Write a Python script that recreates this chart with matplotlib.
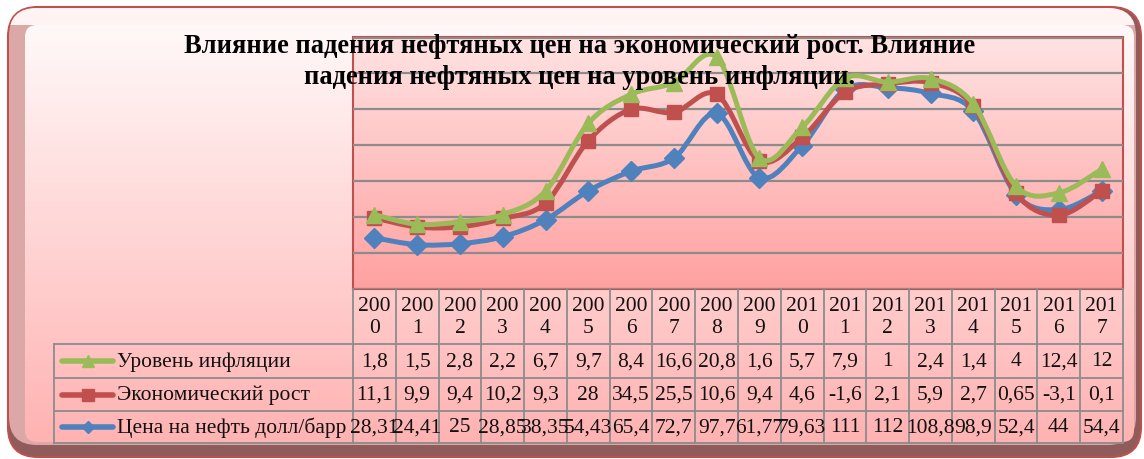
import numpy as np
import matplotlib
matplotlib.use("Agg")
import matplotlib.pyplot as plt
from matplotlib.path import Path
from matplotlib.patches import PathPatch, FancyBboxPatch, Rectangle

# ---------------- data ----------------
years = ["2000", "2001", "2002", "2003", "2004", "2005", "2006", "2007", "2008",
         "2009", "2010", "2011", "2012", "2013", "2014", "2015", "2016", "2017"]
inflation = [1.8, 1.5, 2.8, 2.2, 6.7, 9.7, 8.4, 16.6, 20.8, 1.6, 5.7, 7.9, 1, 2.4, 1.4, 4, 12.4, 12]
growth = [11.1, 9.9, 9.4, 10.2, 9.3, 28, 34.5, 25.5, 10.6, 9.4, 4.6, -1.6, 2.1, 5.9, 2.7, 0.65, -3.1, 0.1]
oil = [28.31, 24.41, 25, 28.85, 38.35, 54.43, 65.4, 72.7, 97.7, 61.77, 79.63, 111, 112, 108.8, 98.9, 52.4, 44, 54.4]

inflation_lbl = ["1,8", "1,5", "2,8", "2,2", "6,7", "9,7", "8,4", "16,6", "20,8", "1,6", "5,7", "7,9", "1", "2,4", "1,4", "4", "12,4", "12"]
growth_lbl = ["11,1", "9,9", "9,4", "10,2", "9,3", "28", "34,5", "25,5", "10,6", "9,4", "4,6", "-1,6", "2,1", "5,9", "2,7", "0,65", "-3,1", "0,1"]
oil_lbl = ["28,31", "24,41", "25", "28,85", "38,35", "54,43", "65,4", "72,7", "97,7", "61,77", "79,63", "111", "112", "108,8", "98,9", "52,4", "44", "54,4"]

series_names = ["Уровень инфляции", "Экономический рост", "Цена на нефть долл/барр"]
title = "Влияние падения нефтяных цен на экономический рост. Влияние\nпадения нефтяных цен на уровень инфляции."

C_GREEN = "#9BBB59"
C_RED = "#C0504D"
C_BLUE = "#4F81BD"

W, H = 1144, 459
fig = plt.figure(figsize=(W / 100, H / 100), dpi=100)

# ---------------- background frame ----------------
bg = fig.add_axes([0, 0, 1, 1], zorder=0)
bg.set_xlim(0, W)
bg.set_ylim(H, 0)
bg.axis("off")

r_out = 30
outer = FancyBboxPatch((8 + r_out, 7 + r_out), 1133 - 2 * r_out, 450 - 2 * r_out,
                       boxstyle="round,pad=%d" % r_out, fc="#8F5B5B", ec=C_RED, lw=1.5, zorder=1)
bg.add_patch(outer)
r_b = 28
bevel = FancyBboxPatch((9 + r_b, 8 + r_b), 1127 - 2 * r_b, 437 - 2 * r_b,
                       boxstyle="round,pad=%d" % r_b, fc="#DBA7A7", ec="none", zorder=2)
bg.add_patch(bevel)
topstrip = Rectangle((0, 0), W, 25, fc="#FFF3F3", ec="none", zorder=3)
bg.add_patch(topstrip)
topstrip.set_clip_path(bevel)
r_i = 12
inner = FancyBboxPatch((25 + r_i, 25 + r_i), 1109 - 2 * r_i, 417 - 2 * r_i,
                       boxstyle="round,pad=%d" % r_i, fc="none", ec="none")
bg.add_patch(inner)
grad = np.linspace(0, 1, 256).reshape(-1, 1)
c_top = np.array([1.0, 0.975, 0.975])
c_bot = np.array([1.0, 0.70, 0.70])
img = c_top[None, None, :] * (1 - grad[..., None]) + c_bot[None, None, :] * grad[..., None]
im = bg.imshow(img, extent=[25, 1134, 442, 25], aspect="auto", zorder=4)
im.set_clip_path(inner)

# ---------------- plot area ----------------
L, R, T, B = 353, 1123, 37.5, 288.5
ax = fig.add_axes([L / W, 1 - B / H, (R - L) / W, (B - T) / H], zorder=2)
ax.set_xlim(-0.5, len(years) - 0.5)
ax.set_ylim(0, 140)
ax.set_facecolor("none")
pa_top = np.array([1.0, 0.89, 0.89])
pa_bot = np.array([1.0, 0.63, 0.63])
img2 = pa_top[None, None, :] * (1 - grad[..., None]) + pa_bot[None, None, :] * grad[..., None]
ax.imshow(img2, extent=[-0.5, len(years) - 0.5, 0, 140], aspect="auto", zorder=0)
ax.set_yticks(np.arange(0, 141, 20))
ax.set_xticks([])
ax.tick_params(left=False, labelleft=False)
ax.yaxis.grid(True, color="#8C8C8C", lw=1.6, zorder=1)
ax.set_axisbelow(False)
for s in ax.spines.values():
    s.set_color(C_RED)
    s.set_linewidth(1.5)

x = np.arange(len(years))
oil_a = np.array(oil)
s1 = oil_a
s2 = oil_a + np.array(growth)
s3 = s2 + np.array(inflation)


def smooth_path(xs, ys, t=1 / 6):
    pts = np.column_stack([xs, ys])
    n = len(pts)
    verts = [pts[0]]
    codes = [Path.MOVETO]
    for i in range(n - 1):
        p0 = pts[max(i - 1, 0)]
        p1 = pts[i]
        p2 = pts[i + 1]
        p3 = pts[min(i + 2, n - 1)]
        c1 = p1 + (p2 - p0) * t
        c2 = p2 - (p3 - p1) * t
        verts += [c1, c2, p2]
        codes += [Path.CURVE4] * 3
    return Path(np.array(verts), codes)


for ys, col, mk, ms, z in [(s1, C_BLUE, "D", 10, 3), (s2, C_RED, "s", 10.5, 4), (s3, C_GREEN, "^", 11.5, 5)]:
    ax.add_patch(PathPatch(smooth_path(x, ys), fill=False, ec=col, lw=3.6,
                           capstyle="round", joinstyle="round", zorder=z, clip_on=False))
    ax.plot(x, ys, linestyle="none", marker=mk, ms=ms, color=col, mec=col, zorder=z + 0.5, clip_on=False)

# ---------------- title ----------------
fig.text(580 / W, 1 - 62 / H, title, ha="center", va="center", fontsize=19.1,
         fontweight="bold", family="Liberation Serif", linespacing=1.36, zorder=10)

# ---------------- data table ----------------
tb = fig.add_axes([0, 0, 1, 1], zorder=3)
tb.set_xlim(0, W)
tb.set_ylim(H, 0)
tb.axis("off")
ncol = len(years)
cw = (R - L) / ncol
col_edges = [L + i * cw for i in range(ncol + 1)]
row_edges = [289, 344, 378, 411, 443]
leg_left = 54
gcol = "#8C8C8C"
glw = 1.3
for xe in col_edges:
    tb.plot([xe, xe], [row_edges[0], row_edges[-1]], color=gcol, lw=glw, zorder=1)
tb.plot([leg_left, leg_left], [row_edges[1], row_edges[-1]], color=gcol, lw=glw, zorder=1)
for ye in row_edges[1:]:
    tb.plot([leg_left, R], [ye, ye], color=gcol, lw=glw, zorder=1)

tfont = dict(family="Liberation Serif", fontsize=15.5, color="#111111", zorder=2)
for i, yr in enumerate(years):
    cx = L + (i + 0.5) * cw
    tb.text(cx, (row_edges[0] + row_edges[1]) / 2 + 1, yr[:3] + "\n" + yr[3:], ha="center", va="center",
            linespacing=1.2, **tfont)
rows = [(inflation_lbl, C_GREEN, "^", 8), (growth_lbl, C_RED, "s", 8), (oil_lbl, C_BLUE, "D", 6.5)]
for r, (labels, col, mk, ms) in enumerate(rows):
    cy = (row_edges[r + 1] + row_edges[r + 2]) / 2
    for i, lab in enumerate(labels):
        cx = L + (i + 0.5) * cw
        tb.text(cx, cy + 1, lab, ha="center", va="center", **tfont)
    tb.plot([62, 113], [cy, cy], color=col, lw=4, solid_capstyle="round", zorder=2)
    tb.plot([88], [cy], marker=mk, ms=ms, color=col, zorder=3)
    tb.text(117, cy + 1, series_names[r], ha="left", va="center", **tfont)

fig.savefig("out.png", dpi=100)
